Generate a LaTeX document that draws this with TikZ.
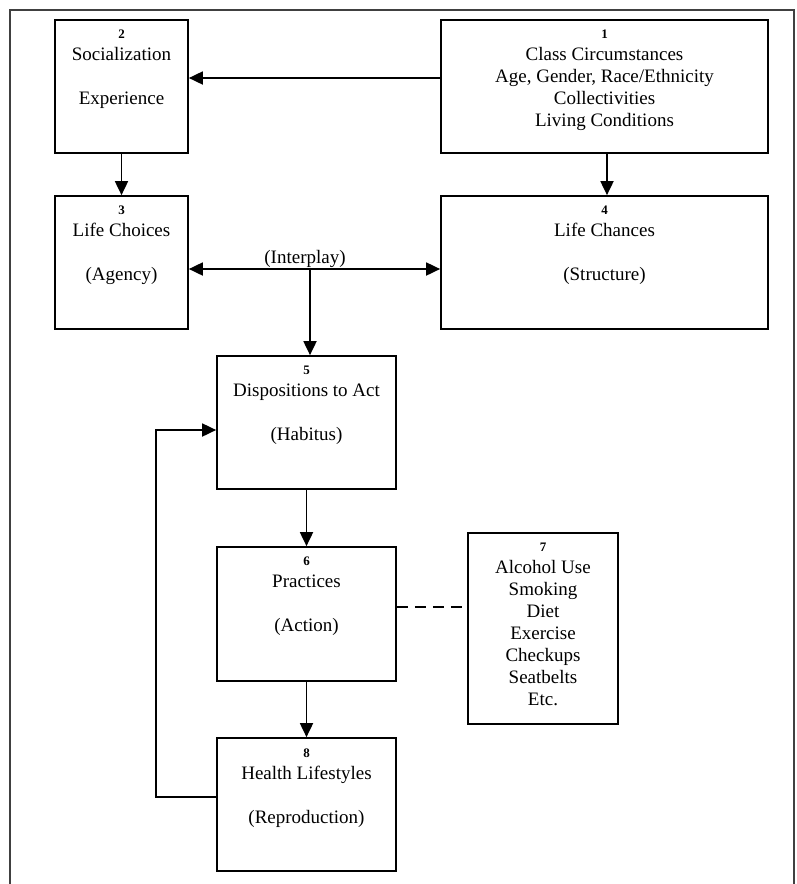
\documentclass[tikz,border=0pt]{standalone}
\usepackage{fontspec}
\setmainfont{Liberation Serif}
\usetikzlibrary{positioning,arrows.meta}

\newcommand{\boxnum}[1]{{\fontsize{13}{14}\selectfont\bfseries #1}}

\begin{document}
\begin{tikzpicture}[x=1pt,y=-1pt,
    box/.style={draw, line width=1.7pt, inner sep=0pt},
    txt/.style={align=center, inner sep=0pt, font=\fontsize{19}{22}\selectfont},
    link/.style={line width=1.8pt, -{Triangle[length=14pt,width=13pt]}},
  ]
  \useasboundingbox (0,0) rectangle (797,884);

  % Cornice (aperta in basso)
  \draw[line width=1.3pt, black!75] (10,884) -- (10,10) -- (794,10) -- (794,884);

  % Blocchi (centri e dimensioni)
  \node[box, minimum width=133pt, minimum height=133pt] (b2) at (121.5,86.5) {};
  \node[box, minimum width=327pt, minimum height=133pt] (b1) at (604.5,86.5) {};
  \node[box, minimum width=133pt, minimum height=133pt] (b3) at (121.5,262.5) {};
  \node[box, minimum width=327pt, minimum height=133pt] (b4) at (604.5,262.5) {};
  \node[box, minimum width=179pt, minimum height=133pt] (b5) at (306.5,422.5) {};
  \node[box, minimum width=179pt, minimum height=134pt] (b6) at (306.5,614) {};
  \node[box, minimum width=150pt, minimum height=191pt] (b7) at (543,628.5) {};
  \node[box, minimum width=179pt, minimum height=133pt] (b8) at (306.5,804.5) {};

  % Testi dei blocchi
  \node[txt, below=11pt of b1.north] (t1) {\boxnum{1}\\Class Circumstances\\Age, Gender, Race/Ethnicity\\Collectivities\\Living Conditions};
  \node[txt, below=11pt of b2.north] (t2) {\boxnum{2}\\Socialization\\[22pt]Experience};
  \node[txt, below=11pt of b3.north] (t3) {\boxnum{3}\\Life Choices\\[22pt](Agency)};
  \node[txt, below=11pt of b4.north] (t4) {\boxnum{4}\\Life Chances\\[22pt](Structure)};
  \node[txt, below=11pt of b5.north] (t5) {\boxnum{5}\\Dispositions to Act\\[22pt](Habitus)};
  \node[txt, below=11pt of b6.north] (t6) {\boxnum{6}\\Practices\\[22pt](Action)};
  \node[txt, below=11pt of b7.north] (t7) {\boxnum{7}\\Alcohol Use\\Smoking\\Diet\\Exercise\\Checkups\\Seatbelts\\Etc.};
  \node[txt, below=11pt of b8.north] (t8) {\boxnum{8}\\Health Lifestyles\\[22pt](Reproduction)};

  % Frecce
  \draw[link] ([yshift=8.5pt]b1.west) -- ([yshift=8.5pt]b2.east);
  \draw[link] (b2.south) -- (b3.north);
  \draw[link] ([xshift=2.5pt]b1.south) -- ([xshift=2.5pt]b4.north);
  \draw[link, {Triangle[length=14pt,width=13pt]}-{Triangle[length=14pt,width=13pt]}]
    ([yshift=-6.5pt]b3.east) -- ([yshift=-6.5pt]b4.west);
  \coordinate (ip) at (310,269);
  \node[txt, above=1pt of ip, xshift=-5pt] (lip) {(Interplay)};
  \draw[link] (ip) -- (ip |- b5.north);
  \draw[link] (b5.south) -- (b6.north);
  \draw[link] (b6.south) -- (b8.north);

  % Ritorno da 8 a 5
  \draw[link] ([yshift=7.5pt]b8.west) -- ++(-60,0) |- ([yshift=-7.5pt]b5.west);

  % Collegamento tratteggiato
  \coordinate (d6) at ([yshift=7pt]b6.east);
  \draw[line width=1.8pt, dash pattern=on 11pt off 7pt, shorten >=5pt] (d6) -- (d6 -| b7.west);
\end{tikzpicture}
\end{document}
